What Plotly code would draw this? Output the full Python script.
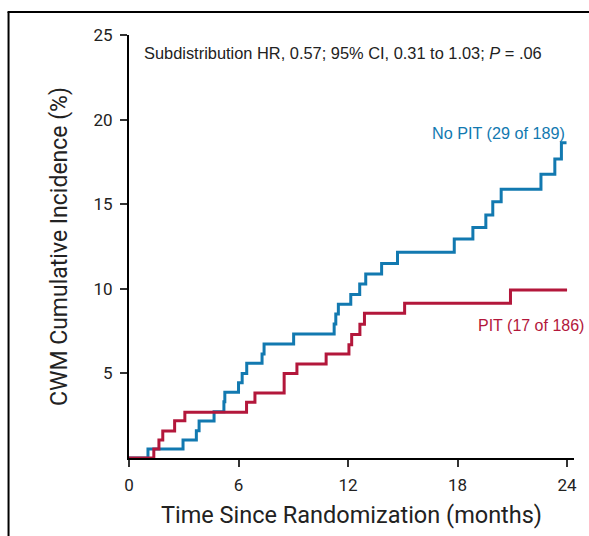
import plotly.graph_objects as go

# Step data (event times in months, cumulative incidence in %)
no_pit_t = [0, 1.04, 2.96, 3.69, 3.84, 4.66, 5.20, 5.25, 6.00, 6.20, 6.45, 7.29, 7.40, 9.02,
            11.24, 11.33, 11.47, 12.15, 12.64, 12.97, 13.84, 14.71, 17.82, 18.84, 19.55,
            19.93, 20.39, 22.57, 23.33, 23.69, 23.97]
no_pit_y = [0, 0.53, 1.06, 1.61, 2.19, 2.74, 3.33, 3.88, 4.45, 5.00, 5.60, 6.15, 6.74, 7.33,
            7.92, 8.51, 9.08, 9.67, 10.28, 10.87, 11.50, 12.16, 12.94, 13.63, 14.36,
            15.15, 15.88, 16.77, 17.67, 18.63, 18.63]

pit_t = [0, 1.36, 1.64, 1.85, 2.50, 3.06, 6.44, 6.90, 8.50, 9.20, 10.80, 12.05, 12.20,
         12.65, 12.90, 15.10, 20.90, 24.00]
pit_y = [0, 0.53, 1.06, 1.60, 2.20, 2.70, 3.30, 3.84, 5.00, 5.56, 6.15, 6.70, 7.30,
         7.90, 8.55, 9.15, 9.93, 9.93]

x_ticks = [0, 6, 12, 18, 24]
y_ticks = [5, 10, 15, 20, 25]

BLUE = "#1279b0"
RED = "#b3173b"

W, H = 589, 536
L, R, T, B = 129, 13, 35, 78
PW, PH = W - L - R, H - T - B

def px(xp):
    return (xp - L) / PW

def py(yp):
    return (H - B - yp) / PH

fig = go.Figure()
fig.add_trace(go.Scatter(x=no_pit_t, y=no_pit_y, mode="lines", line_shape="hv",
                         line=dict(color=BLUE, width=3), hoverinfo="skip", showlegend=False))
fig.add_trace(go.Scatter(x=pit_t, y=pit_y, mode="lines", line_shape="hv",
                         line=dict(color=RED, width=3), hoverinfo="skip", showlegend=False))

font_main = "Roboto, Arial, sans-serif"
font_txt = "Liberation Sans, Arial, sans-serif"

fig.update_layout(
    width=W, height=H,
    margin=dict(l=L, r=R, t=T, b=B),
    paper_bgcolor="white", plot_bgcolor="white",
    xaxis=dict(range=[0, 24.38], tickvals=x_ticks, ticktext=[str(v) for v in x_ticks],
               showgrid=False, zeroline=False, showline=True, linecolor="black", linewidth=2,
               ticks="outside", ticklen=7, tickwidth=1.5, tickcolor="#333",
               tickfont=dict(family=font_main, size=17, color="#222"),
               ticklabelstandoff=4,
               title=dict(text="Time Since Randomization (months)",
                          font=dict(family=font_main, size=23.5, color="#222"), standoff=12)),
    yaxis=dict(range=[0, 25], tickvals=y_ticks, ticktext=[str(v) for v in y_ticks],
               showgrid=False, zeroline=False, showline=True, linecolor="black", linewidth=2,
               ticks="outside", ticklen=7, tickwidth=1.5, tickcolor="#333",
               tickfont=dict(family=font_main, size=17, color="#222"),
               ticklabelstandoff=4,
               title=dict(text="CWM Cumulative Incidence (%)",
                          font=dict(family=font_main, size=23, color="#222"), standoff=19)),
)

fig.add_annotation(x=px(142), y=py(53), xref="paper", yref="paper", xanchor="left", yanchor="middle",
                   text="Subdistribution HR, 0.57; 95% CI, 0.31 to 1.03; <i>P</i> = .06",
                   showarrow=False, font=dict(family=font_txt, size=16.4, color="#222"))
fig.add_annotation(x=px(569), y=py(133), xref="paper", yref="paper", xanchor="right", yanchor="middle",
                   text="No PIT (29 of 189)", showarrow=False,
                   font=dict(family=font_txt, size=16.2, color=BLUE))
fig.add_annotation(x=px(588), y=py(325), xref="paper", yref="paper", xanchor="right", yanchor="middle",
                   text="PIT (17 of 186)", showarrow=False,
                   font=dict(family=font_txt, size=16, color=RED))

# outer frame (left and top edges)
fig.add_shape(type="line", xref="paper", yref="paper", x0=px(8), x1=px(8), y0=py(12), y1=py(540),
              line=dict(color="black", width=2))
fig.add_shape(type="line", xref="paper", yref="paper", x0=px(7), x1=px(592), y0=py(12), y1=py(12),
              line=dict(color="black", width=2))

fig.write_html("out.html", config={"displayModeBar": False},
               post_script="document.body.style.margin='0';document.body.style.overflow='hidden';")
